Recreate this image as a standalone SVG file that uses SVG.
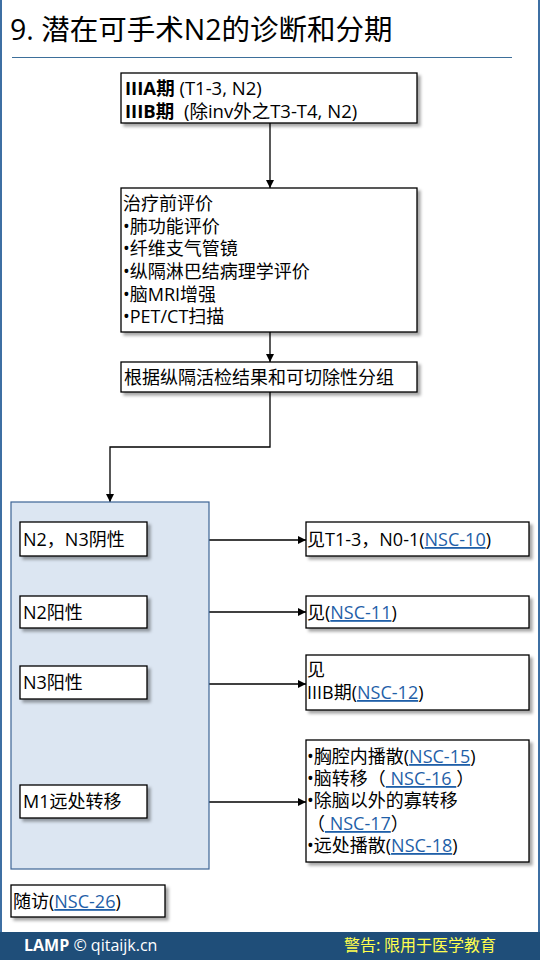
<svg xmlns="http://www.w3.org/2000/svg" width="540" height="960" viewBox="0 0 540 960">
<defs>
<style>
.t{font-family:"Open Sans","Noto Sans CJK SC",sans-serif;font-size:18.5px;fill:#000}
.cj{font-family:"Open Sans","Noto Sans CJK SC",sans-serif;font-size:18px;fill:#000}
.box{fill:#fff;stroke:#000;stroke-width:1.3}
.ln{fill:none;stroke:#000;stroke-width:1.3}
.lk{fill:#1F5FA8;text-decoration:underline}
</style>
<filter id="sh" x="-10%" y="-10%" width="130%" height="140%">
<feDropShadow dx="3" dy="3" stdDeviation="1.5" flood-color="#000" flood-opacity="0.35"/>
</filter>
<marker id="ar" viewBox="0 0 10 10" refX="10" refY="5" markerWidth="8" markerHeight="8" markerUnits="userSpaceOnUse" orient="auto">
<path d="M0,0 L10,5 L0,10 z" fill="#000"/>
</marker>
</defs>
<rect x="0" y="0" width="540" height="960" fill="#fff"/>
<rect x="1" y="-2" width="538" height="940" fill="none" stroke="#3D6FA3" stroke-width="2"/>
<g id="title">
<text x="10" y="40" style="font-family:'Open Sans','Noto Sans CJK SC',sans-serif;font-size:28.5px;fill:#000">9. 潜在可手术N2的诊断和分期</text>
<line x1="12" y1="57.5" x2="512" y2="57.5" stroke="#3D6F9A" stroke-width="1.2"/>
</g>
<g id="connectors">
<line class="ln" x1="270" y1="123" x2="270" y2="188" marker-end="url(#ar)"/>
<line class="ln" x1="270" y1="332" x2="270" y2="362" marker-end="url(#ar)"/>
<polyline class="ln" points="270,392 270,447 110,447 110,502" marker-end="url(#ar)"/>
<line class="ln" x1="147" y1="540" x2="306" y2="540" marker-end="url(#ar)"/>
<line class="ln" x1="147" y1="612" x2="306" y2="612" marker-end="url(#ar)"/>
<line class="ln" x1="147" y1="684" x2="306" y2="684" marker-end="url(#ar)"/>
<line class="ln" x1="147" y1="802" x2="306" y2="802" marker-end="url(#ar)"/>
</g>
<g id="group">
<rect x="11" y="502" width="198" height="367" fill="#DCE6F2" stroke="#3D6495" stroke-width="1.2"/>
</g>
<g id="stage">
<rect class="box" x="121" y="73" width="296" height="50" filter="url(#sh)"/>
<text class="t" x="125" y="95"><tspan font-weight="bold">IIIA期</tspan> (T1-3, N2)</text>
<text class="t" x="125" y="118" xml:space="preserve"><tspan font-weight="bold">IIIB期</tspan>  (除inv外之T3-T4, N2)</text>
</g>
<g id="eval">
<rect class="box" x="121" y="188" width="296" height="144" filter="url(#sh)"/>
<text class="cj" x="123" y="210">治疗前评价</text>
<text class="cj" x="123" y="233">•肺功能评价</text>
<text class="cj" x="123" y="255">•纤维支气管镜</text>
<text class="cj" x="123" y="278">•纵隔淋巴结病理学评价</text>
<text class="cj" x="123" y="301">•脑MRI增强</text>
<text class="cj" x="123" y="323">•PET/CT扫描</text>
</g>
<g id="grouping">
<rect class="box" x="121" y="362" width="296" height="30" filter="url(#sh)"/>
<text class="cj" x="124" y="384">根据纵隔活检结果和可切除性分组</text>
</g>
<g id="n2n3neg">
<rect class="box" x="20" y="522" width="127" height="34" filter="url(#sh)"/>
<text class="cj" x="23" y="546">N2，N3阴性</text>
</g>
<g id="n2pos">
<rect class="box" x="20" y="596" width="127" height="32" filter="url(#sh)"/>
<text class="cj" x="23" y="619">N2阳性</text>
</g>
<g id="n3pos">
<rect class="box" x="20" y="666" width="127" height="33" filter="url(#sh)"/>
<text class="cj" x="23" y="689">N3阳性</text>
</g>
<g id="m1">
<rect class="box" x="20" y="785" width="127" height="33" filter="url(#sh)"/>
<text class="cj" x="23" y="808">M1远处转移</text>
</g>
<g id="r1">
<rect class="box" x="306" y="522" width="223" height="34" filter="url(#sh)"/>
<text class="cj" x="307" y="546">见T1-3，N0-1(<tspan class="lk">NSC-10</tspan>)</text>
</g>
<g id="r2">
<rect class="box" x="306" y="596" width="223" height="32" filter="url(#sh)"/>
<text class="cj" x="307" y="619">见(<tspan class="lk">NSC-11</tspan>)</text>
</g>
<g id="r3">
<rect class="box" x="306" y="655" width="223" height="55" filter="url(#sh)"/>
<text class="cj" x="307" y="676">见</text>
<text class="cj" x="307" y="699">IIIB期(<tspan class="lk">NSC-12</tspan>)</text>
</g>
<g id="r4">
<rect class="box" x="306" y="740" width="223" height="122" filter="url(#sh)"/>
<text class="cj" x="307" y="763">•胸腔内播散(<tspan class="lk">NSC-15</tspan>)</text>
<text class="cj" x="307" y="785" xml:space="preserve">•脑转移（<tspan class="lk"> NSC-16 </tspan>）</text>
<text class="cj" x="307" y="807">•除脑以外的寡转移</text>
<text class="cj" x="307" y="830" xml:space="preserve">（<tspan class="lk"> NSC-17</tspan>）</text>
<text class="cj" x="307" y="852">•远处播散(<tspan class="lk">NSC-18</tspan>)</text>
</g>
<g id="followup">
<rect class="box" x="11" y="885" width="154" height="32" filter="url(#sh)"/>
<text class="cj" x="13" y="908">随访(<tspan class="lk">NSC-26</tspan>)</text>
</g>
<g id="footer">
<rect x="0" y="932" width="540" height="28" fill="#1F4E79"/>
<text x="24" y="951" style="font-family:'Open Sans','Noto Sans CJK SC',sans-serif;font-size:16px;fill:#fff"><tspan font-weight="bold">LAMP</tspan> © qitaijk.cn</text>
<text x="496" y="951" text-anchor="end" style="font-family:'Noto Sans CJK SC',sans-serif;font-size:16px;fill:#FFFF4D">警告: 限用于医学教育</text>
</g>
</svg>
